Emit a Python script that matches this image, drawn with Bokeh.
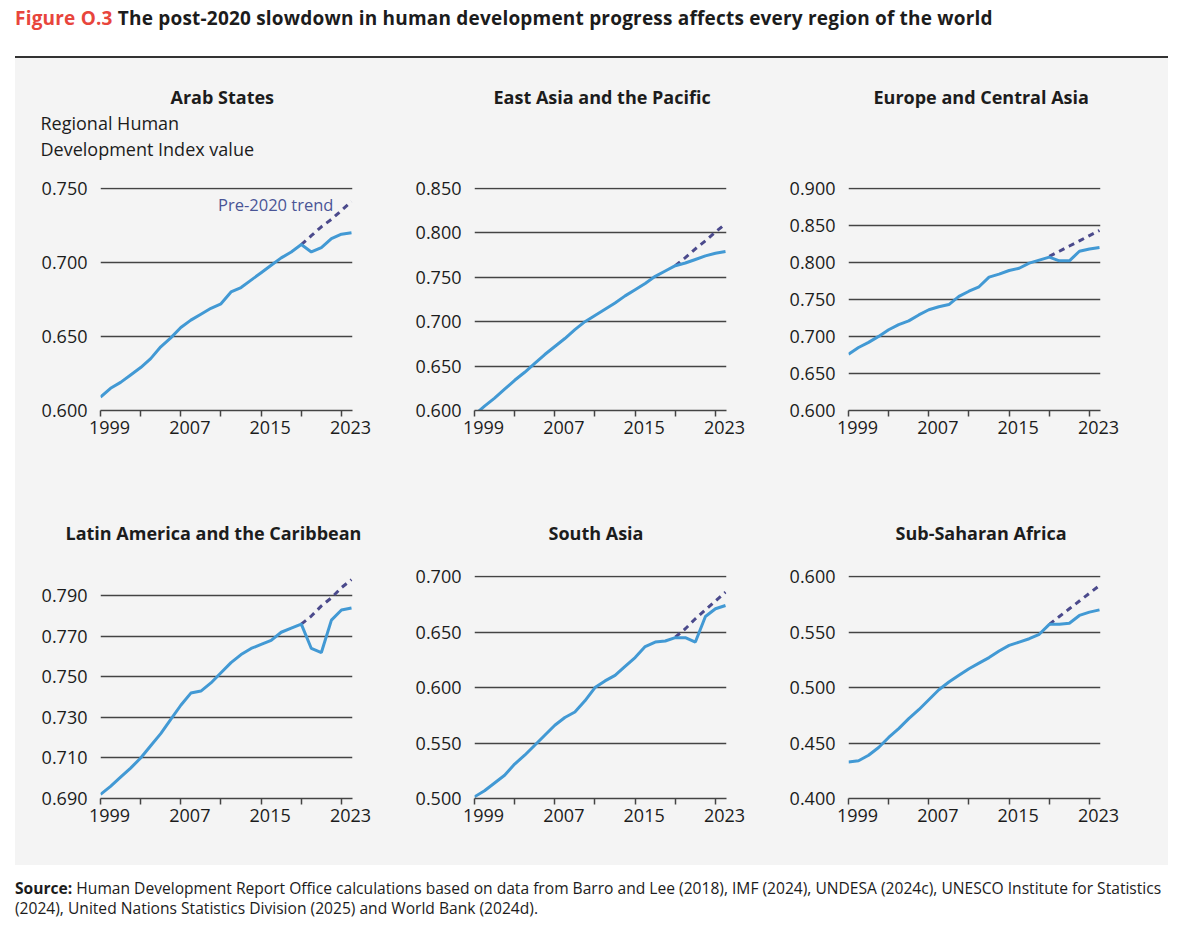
from bokeh.plotting import figure
from bokeh.models import Range1d, FixedTicker, NumeralTickFormatter, Title, Div
from bokeh.layouts import column, row
from bokeh.embed import file_html
from bokeh.resources import INLINE
from bokeh.core.properties import value

# ---------------- data ----------------
years = list(range(1999, 2025))
trend_years = list(range(2019, 2025))
tick_years = [1999, 2003, 2007, 2011, 2015, 2019, 2023]
label_years = [1999, 2007, 2015, 2023]

arab = [0.609, 0.615, 0.619, 0.624, 0.629, 0.635, 0.643, 0.649, 0.656, 0.661, 0.665, 0.669, 0.672,
        0.680, 0.683, 0.688, 0.693, 0.698, 0.703, 0.707, 0.712, 0.707, 0.710, 0.716, 0.719, 0.720]
arab_trend = [0.712, 0.718, 0.724, 0.729, 0.735, 0.741]
arab_ticks = [0.600, 0.650, 0.700, 0.750]

eap = [0.595, 0.605, 0.614, 0.624, 0.634, 0.643, 0.653, 0.663, 0.672, 0.681, 0.691, 0.700, 0.707,
       0.714, 0.721, 0.729, 0.736, 0.743, 0.751, 0.757, 0.763, 0.766, 0.770, 0.774, 0.777, 0.779]
eap_trend = [0.763, 0.772, 0.782, 0.791, 0.801, 0.810]
eap_ticks = [0.600, 0.650, 0.700, 0.750, 0.800, 0.850]

eca = [0.676, 0.685, 0.692, 0.700, 0.709, 0.716, 0.721, 0.729, 0.736, 0.740, 0.743, 0.754, 0.761,
       0.767, 0.780, 0.784, 0.789, 0.792, 0.799, 0.803, 0.807, 0.802, 0.802, 0.815, 0.818, 0.820]
eca_trend = [0.808, 0.815, 0.822, 0.829, 0.836, 0.843]
eca_ticks = [0.600, 0.650, 0.700, 0.750, 0.800, 0.850, 0.900]

lac = [0.692, 0.696, 0.7005, 0.705, 0.710, 0.716, 0.722, 0.729, 0.736, 0.742, 0.743, 0.747, 0.752,
       0.757, 0.761, 0.764, 0.766, 0.768, 0.772, 0.774, 0.776, 0.764, 0.762, 0.778, 0.783, 0.784]
lac_trend = [0.776, 0.780, 0.785, 0.789, 0.794, 0.798]
lac_ticks = [0.690, 0.710, 0.730, 0.750, 0.770, 0.790]

sa = [0.5015, 0.507, 0.514, 0.521, 0.531, 0.539, 0.548, 0.557, 0.566, 0.573, 0.578, 0.588, 0.600,
      0.606, 0.611, 0.619, 0.627, 0.637, 0.641, 0.642, 0.645, 0.645, 0.641, 0.664, 0.671, 0.674]
sa_trend = [0.6455, 0.653, 0.662, 0.670, 0.678, 0.686]
sa_ticks = [0.500, 0.550, 0.600, 0.650, 0.700]

ssa = [0.433, 0.434, 0.439, 0.446, 0.455, 0.463, 0.472, 0.480, 0.489, 0.498, 0.505, 0.511, 0.517,
       0.522, 0.527, 0.533, 0.538, 0.541, 0.544, 0.548, 0.557, 0.557, 0.558, 0.565, 0.568, 0.570]
ssa_trend = [0.557, 0.564, 0.571, 0.578, 0.585, 0.592]
ssa_ticks = [0.400, 0.450, 0.500, 0.550, 0.600]

# ---------------- style ----------------
FONT = "Open Sans"
BG = "#f4f4f4"
GRID = "#444444"
BLUE = "#4299d4"
DASH = "#4b4a8c"
TXT = "#1c1c1c"
FW, FH = 252, 223


def spacer_title(p, standoff):
    p.add_layout(Title(text="\u00a0", text_font_size="1px", standoff=standoff,
                       text_color=BG), "above")


def make_panel(title, vals, trend, yticks, ylo, yhi, right, top, bottom,
               title_x, spacer=None, title_standoff=0, extra_titles=()):
    left = 85
    p = figure(width=left + FW + right, height=top + FH + bottom,
               x_range=Range1d(1999, 2024.1), y_range=Range1d(ylo, yhi),
               output_backend="svg", toolbar_location=None,
               min_border_left=left, min_border_right=right,
               min_border_top=top, min_border_bottom=bottom,
               background_fill_color=BG, border_fill_color=BG,
               outline_line_color=None)
    # x axis: tick marks every 4 years, labels every 8 years
    xa = p.xaxis[0]
    shifted = [y + 0.9 for y in label_years]
    xa.ticker = FixedTicker(ticks=shifted, minor_ticks=tick_years)
    xa.major_label_overrides = {s: str(y) for s, y in zip(shifted, label_years)}
    xa.major_tick_line_color = None
    xa.major_tick_in = 0
    xa.major_tick_out = 0
    xa.minor_tick_in = 0
    xa.minor_tick_out = 6
    xa.minor_tick_line_color = GRID
    xa.minor_tick_line_width = 1.5
    xa.axis_line_color = GRID
    xa.axis_line_width = 1.5
    xa.major_label_standoff = 4
    xa.major_label_text_font = FONT
    xa.major_label_text_font_size = "18px"
    xa.major_label_text_color = TXT
    # y axis
    ya = p.yaxis[0]
    ya.ticker = FixedTicker(ticks=yticks)
    ya.formatter = NumeralTickFormatter(format="0.000")
    ya.axis_line_color = None
    ya.major_tick_line_color = None
    ya.minor_tick_line_color = None
    ya.major_tick_in = 0
    ya.major_tick_out = 0
    ya.major_label_standoff = 13
    ya.major_label_text_font = FONT
    ya.major_label_text_font_size = "18px"
    ya.major_label_text_color = TXT
    p.xgrid.grid_line_color = None
    p.ygrid.grid_line_color = GRID
    p.ygrid.grid_line_width = 1.5

    p.line(trend_years, trend, color=DASH, line_width=3, line_dash="6 5")
    p.line(years, vals, color=BLUE, line_width=3)

    if spacer is not None:
        spacer_title(p, spacer)
    for txt in extra_titles:
        p.add_layout(Title(text=txt, align="left", offset=-60, standoff=0,
                           text_font=FONT, text_font_size="18px",
                           text_font_style="normal", text_color=TXT), "above")
    p.add_layout(Title(text=title, align="left", offset=title_x - left,
                       standoff=title_standoff, text_font=FONT,
                       text_font_size="18px", text_font_style="bold",
                       text_color=TXT), "above")
    return p


# top row (figure widths 374 / 374 / 405, heights 402)
f1 = make_panel("Arab States", arab, arab_trend, arab_ticks, 0.600, 0.7505,
                37, 129, 50, 155, spacer=24,
                extra_titles=("Development Index value", "Regional Human"))
f2 = make_panel("East Asia and the Pacific", eap, eap_trend, eap_ticks, 0.600, 0.851,
                37, 129, 50, 104, spacer=76)
f3 = make_panel("Europe and Central Asia", eca, eca_trend, eca_ticks, 0.600, 0.901,
                68, 129, 50, 110, spacer=76)
# bottom row (heights 405)
f4 = make_panel("Latin America and the Caribbean", lac, lac_trend, lac_ticks, 0.690, 0.800,
                37, 115, 67, 50, title_standoff=61)
f5 = make_panel("South Asia", sa, sa_trend, sa_ticks, 0.500, 0.701,
                37, 115, 67, 159, title_standoff=61)
f6 = make_panel("Sub-Saharan Africa", ssa, ssa_trend, ssa_ticks, 0.400, 0.601,
                68, 115, 67, 132, title_standoff=61)

f1.text(x=[2022.2], y=[0.739], text=["Pre-2020 trend"], text_align="right",
        text_baseline="middle", text_font=value(FONT), text_font_size="16.5px",
        text_color="#4a5596")

header = Div(
    text=('<div style="position:relative;width:1160px;height:50px;">'
          '<div style="position:absolute;left:7px;top:0px;font-family:\'Open Sans\';'
          'font-size:19px;letter-spacing:0.2px;font-weight:700;line-height:20px;'
          'color:#1c1c1c;white-space:nowrap;">'
          '<span style="color:#e8453c">Figure O.3</span> The post-2020 slowdown in human '
          'development progress affects every region of the world</div>'
          '<div style="position:absolute;left:7px;top:48px;width:1153px;height:2px;'
          'background:#333;"></div></div>'),
    width=1160, height=50, margin=0)

source = Div(
    text=('<div style="position:relative;width:1160px;height:60px;">'
          '<div style="position:absolute;left:7px;top:13px;font-family:\'Open Sans\';'
          'font-size:15.6px;line-height:20px;color:#1c1c1c;white-space:nowrap;">'
          '<b>Source:</b> Human Development Report Office calculations based on data from Barro '
          'and Lee (2018), IMF (2024), UNDESA (2024c), UNESCO Institute for Statistics<br>'
          '(2024), United Nations Statistics Division (2025) and World Bank (2024d).</div></div>'),
    width=1160, height=60, margin=0)

bgstyle = {"background-color": BG}
r1 = row(f1, f2, f3, spacing=0, styles=bgstyle)
r2 = row(f4, f5, f6, spacing=0, styles=bgstyle)
grid = column(r1, r2, spacing=0, styles=bgstyle, margin=(0, 0, 0, 7))
page = column(header, grid, source, spacing=0, margin=(8, 0, 0, 8))

open("out.html", "w").write(file_html(page, INLINE))
